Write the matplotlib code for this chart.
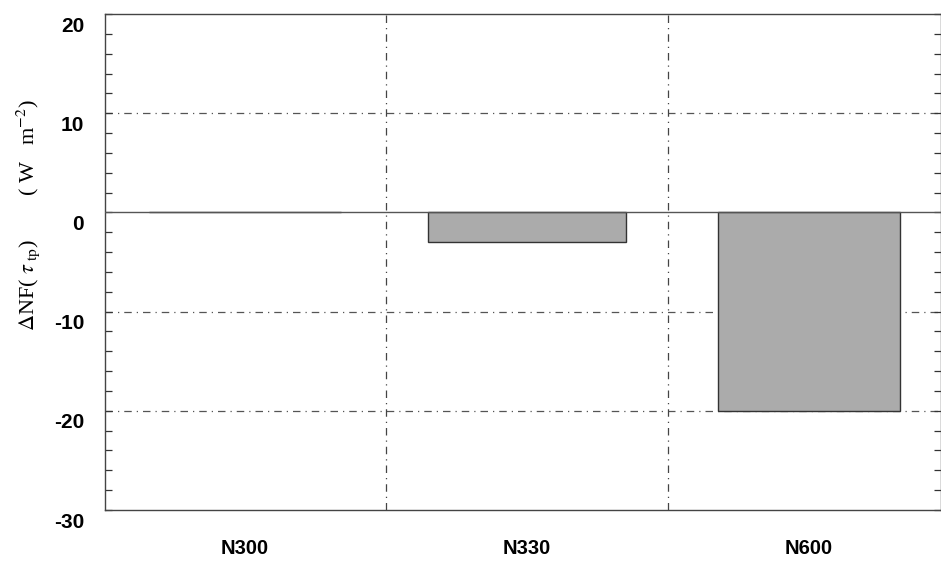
import matplotlib
matplotlib.use("Agg")
import matplotlib.pyplot as plt
import matplotlib.transforms as mtransforms
from matplotlib.ticker import MultipleLocator

# data
categories = ["N300", "N330", "N600"]
delta_nf = [0.0, -3.0, -20.0]
bar_widths = [0.68, 0.70, 0.645]
y_ticks = [-30, -20, -10, 0, 10, 20]

plt.rcParams["font.family"] = ["Liberation Sans", "DejaVu Sans"]
plt.rcParams["mathtext.fontset"] = "stix"

fig = plt.figure(figsize=(9.41, 5.73), dpi=100)
ax = fig.add_axes([105 / 941, 1 - 510 / 573, 836 / 941, 496 / 573])

x = list(range(len(categories)))
ax.bar(x, delta_nf, width=bar_widths, color="#ababab", edgecolor="#333333",
       linewidth=1.0, zorder=3)

ax.set_xlim(-0.496, 2.468)
ax.set_ylim(-30, 20)

# grid
for gy in [10, -10, -20]:
    ax.axhline(gy, color="#555555", lw=0.9, ls=(0, (6, 4, 1, 4)), zorder=1)
for gx in [0.5, 1.5]:
    ax.axvline(gx, color="#444444", lw=0.9, ls=(0, (6, 4, 1, 4)), zorder=1)
ax.axhline(0, color="#555555", lw=1.0, zorder=4)

ax.set_xticks(x)
ax.set_xticklabels(categories, fontsize=14.5, fontweight="semibold")
ax.tick_params(axis="x", length=0, pad=21)

ax.set_yticks(y_ticks)
ax.set_yticklabels([str(v) for v in y_ticks], fontsize=15, fontweight="semibold")
ax.yaxis.set_minor_locator(MultipleLocator(2))
ax.tick_params(axis="y", which="both", direction="in", left=True, right=True,
               length=5, width=0.9, color="#333333", pad=15)

# tick labels in the reference sit a little below their ticks
shift = mtransforms.ScaledTranslation(0, -10 / 100, fig.dpi_scale_trans)
for lab in ax.get_yticklabels():
    lab.set_transform(lab.get_transform() + shift)

for s in ax.spines.values():
    s.set_color("#444444")
    s.set_linewidth(1.0)

fig.text(28 / 941, 1 - 215 / 573,
         r"$\Delta$NF( $\tau_{\ \mathrm{tp}}$)        ( W   m$^{-2}$)",
         rotation=90, va="center", ha="center", fontsize=16,
         family=["Liberation Serif", "DejaVu Serif"])

fig.savefig("out.png", dpi=100)
